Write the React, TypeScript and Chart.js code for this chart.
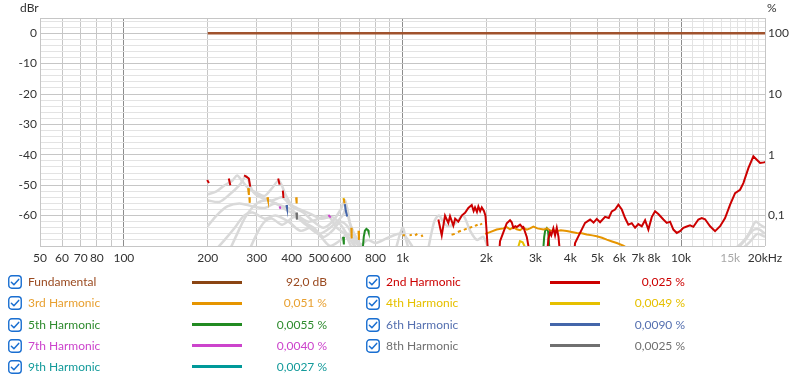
import React, { useEffect, useRef } from 'react';
import { Chart, registerables } from 'chart.js';
Chart.register(...registerables);

type Pt = [number, number | null];

const FONT = 'Lato, "Noto Sans", sans-serif';

// ---- axes ----
const xMin = 50;
const xMax = 20000;
const yMin = -70;
const yMax = 5;
const xLabelValues = [50, 60, 70, 80, 100, 200, 300, 400, 500, 600, 800, 1000, 2000, 3000, 4000, 5000, 6000, 7000, 8000, 10000, 15000, 20000];
const xLabelTexts = ['50', '60', '70', '80', '100', '200', '300', '400', '500', '600', '800', '1k', '2k', '3k', '4k', '5k', '6k', '7k', '8k', '10k', '15k', '20kHz'];
const yLabelValues = [0, -10, -20, -30, -40, -50, -60];
const pctTickValues = [0.1, 1, 10, 100];
const pctTickLabels = ['0,1', '1', '10', '100'];

// ---- series (Hz, dBr) ----
const fundamental: Pt[] = [[200, 0], [20000, 0]];

const h2: Pt[] = [
  [199, -48.3], [202, -49.3], [202, null],
  [238, -47.8], [241, -50.0], [241, null],
  [270, -46.8], [275, -47.2], [281, -47.8], [284, -50.5], [284, null],
  [358, -47.8], [362, -49.8], [362, null],
  [372, -51.8], [374, -54.2], [374, null],
  [1345, -61.3], [1383, -66.5], [1421, -60.0], [1460, -62.4], [1481, -60.2], [1522, -63.3], [1545, -61.0],
  [1586, -62.0], [1632, -60.0], [1677, -59.1], [1723, -57.5], [1772, -56.5], [1800, -58.5], [1821, -57.3],
  [1850, -58.8], [1872, -57.0], [1900, -58.5], [1925, -57.3], [1960, -58.5], [1985, -60], [2000, -64], [2030, -73], [2030, null],
  [2220, -73], [2239, -68.4], [2301, -65.5], [2367, -62.5], [2432, -61.5], [2466, -62.2], [2500, -64], [2540, -63.5],
  [2571, -63.8], [2642, -63.0], [2700, -64], [2716, -63.8], [2793, -67], [2870, -73], [2870, null],
  [3300, -73], [3340, -67.5], [3385, -65.5], [3420, -66.5], [3479, -64.2], [3528, -66.5], [3578, -64], [3630, -67], [3680, -73], [3680, null],
  [4120, -73], [4163, -69], [4338, -65.7], [4521, -62.4], [4713, -61.3], [4850, -62.3], [4980, -61.1], [5118, -62.2],
  [5334, -60.4], [5500, -60.8], [5638, -58.6], [5793, -58.0], [5954, -56.4], [6124, -58], [6293, -60.8], [6466, -63],
  [6650, -62.5], [6835, -64], [7023, -62.8], [7223, -63.5], [7424, -61.5], [7628, -64.6], [7845, -60.5], [8062, -58.6],
  [8284, -59.5], [8637, -61.3], [8882, -62.4], [9127, -62], [9380, -64.6], [9647, -65.7], [9913, -65.1], [10187, -64],
  [10478, -63.6], [10767, -63.2], [11064, -63.7], [11532, -61.3], [11861, -60.8], [12188, -61.2], [12704, -63.5],
  [13240, -65.1], [13800, -63.5], [14381, -60.8], [14990, -56.4], [15620, -52.6], [16276, -51.5], [16726, -49.3],
  [17433, -44.4], [18168, -40.5], [18686, -41.6], [19205, -42.7], [19850, -42.5], [20000, -42.3],
];

const h3: Pt[] = [
  [279, -51], [281, -53.2], [281, null],
  [282, -54], [283, -55.8], [283, null],
  [327, -54], [329, -55], [329, null],
  [415, -54], [417, -56], [417, null],
  [616, -54.5], [619, -56], [619, null],
  [655, -64], [657, -67.5], [657, null],
  [695, -65], [698, -68], [698, null],
  [1000, -66.5], [1020, -66.5], [1020, null],
  [1060, -66.5], [1080, -66.3], [1080, null],
  [1110, -66.5], [1130, -66.0], [1130, null],
  [1170, -66.3], [1180, -67], [1180, null],
  [1500, -66.3], [1540, -66], [1540, null],
  [1580, -65.4], [1620, -65], [1620, null],
  [1660, -64.7], [1700, -64.3], [1700, null],
  [1740, -64], [1780, -63.7], [1780, null],
  [1820, -63.4], [1860, -63], [1860, null],
  [1900, -63], [1930, -62.6], [1930, null],
  [1980, -66], [2050, -65.5], [2178, -64.6], [2300, -64.2], [2367, -63.8], [2432, -64.5], [2500, -63.8], [2571, -64.5],
  [2642, -64.8], [2716, -64], [2793, -64.6], [2870, -64.2], [2949, -63.6], [3050, -64.2], [3203, -64.6], [3300, -64.2],
  [3400, -64.9], [3578, -65.1], [3700, -64.8], [3887, -65.1], [4050, -65.4], [4221, -65.7], [4400, -65.8], [4585, -66.2],
  [4800, -66.5], [4980, -66.8], [5200, -67.3], [5409, -67.9], [5650, -68.5], [5875, -69], [6204, -69.9], [6500, -71],
];

const h4: Pt[] = [
  [614, -54.2], [617, -55.3], [617, null],
  [2590, -71], [2640, -68.4], [2700, -68.8], [2790, -71.5],
];

const h5: Pt[] = [
  [612, -67], [616, -69.5], [616, null],
  [720, -71], [726, -67], [733, -65], [742, -64.4], [752, -64.8], [756, -65.5], [756, null],
  [3195, -72], [3225, -67], [3250, -65], [3294, -64.2], [3330, -65.2], [3350, -68], [3372, -72],
];

const h6: Pt[] = [
  [383, -56.5], [385, -57.5], [385, null],
  [621, -56.2], [626, -58.5], [633, -60.3],
];

const h7: Pt[] = [
  [362, -57.0], [365, -57.8], [365, null],
  [542, -59.8], [548, -60.3], [553, -60.6],
];

const h8: Pt[] = [
  [416, -59], [418, -61.3],
];

const h9: Pt[] = [];

// greyed (unreliable) harmonic traces
const greyA: Pt[] = [[200, -53], [215, -52], [230, -50], [245, -48.5], [255, -46.8], [265, -48.5], [280, -51], [300, -52.5], [320, -53.5], [340, -51], [360, -48.5], [380, -53], [400, -56.5], [430, -58], [470, -59.5], [510, -61], [560, -60.5], [600, -63], [640, -67], [680, -71]];
const greyB: Pt[] = [[200, -55], [220, -55.5], [240, -53], [260, -50], [275, -47], [290, -52], [310, -54], [340, -55], [370, -54], [400, -57], [440, -59], [480, -62], [520, -64], [560, -62], [600, -58], [622, -55], [645, -62], [680, -68], [700, -71]];
const greyC: Pt[] = [[200, -63.5], [215, -60], [235, -57], [260, -56], [290, -57], [320, -57.5], [350, -56], [380, -58], [420, -60], [460, -62], [500, -61], [540, -60], [580, -64], [620, -66], [660, -71]];
const greyD: Pt[] = [[238, -72], [255, -66], [275, -60], [300, -56], [330, -55], [360, -56.5], [400, -58], [440, -62], [480, -64], [520, -67], [560, -65], [600, -62], [640, -64], [680, -71]];
const greyE: Pt[] = [[210, -72], [230, -68], [250, -64], [270, -60], [290, -59], [320, -61], [350, -60], [390, -62], [430, -65], [470, -64], [510, -67], [550, -70], [600, -68], [640, -66], [700, -70], [750, -68], [800, -69], [900, -67], [1000, -66], [1100, -71]];
const greyF: Pt[] = [[280, -72], [300, -66], [320, -62], [340, -61], [370, -63], [410, -60.5], [450, -63], [500, -66], [550, -64], [610, -60], [630, -57], [650, -63], [700, -69], [750, -72]];
const greyG: Pt[] = [[940, -72], [1000, -64], [1030, -68], [1060, -72], [1060, null], [1230, -72], [1300, -62], [1350, -60], [1400, -62], [1450, -63.5], [1550, -62.5], [1650, -60], [1750, -65], [1850, -68], [1950, -67], [2050, -72]];
const greyH: Pt[] = [[15000, -72], [16500, -69], [17500, -66], [18500, -62], [19200, -63], [20000, -64]];
const greyI: Pt[] = [[15500, -72], [17000, -68], [18000, -65], [19000, -64.5], [20000, -66]];
const greyJ: Pt[] = [[16000, -72], [17500, -69], [18800, -66], [20000, -67]];
const greyCurves = [greyA, greyB, greyC, greyD, greyE, greyF, greyG, greyH, greyI, greyJ];

// ---- legend ----
const legendNames = ['Fundamental', '2nd Harmonic', '3rd Harmonic', '4th Harmonic', '5th Harmonic', '6th Harmonic', '7th Harmonic', '8th Harmonic', '9th Harmonic'];
const legendValues = ['92,0 dB', '0,025 %', '0,051 %', '0,0049 %', '0,0055 %', '0,0090 %', '0,0040 %', '0,0025 %', '0,0027 %'];
const lineColors = ['#a0522d', '#cc0000', '#e69500', '#e6c000', '#228b22', '#4466aa', '#cc44cc', '#707070', '#009999'];
const legendLineColors = ['#8b4513', '#cc0000', '#e69500', '#e6c000', '#228b22', '#4466aa', '#cc44cc', '#707070', '#009999'];
const textColors = ['#9a4a20', '#cc0000', '#e8a030', '#e6c000', '#2e8b2e', '#5570b0', '#cc44cc', '#707070', '#139a9a'];
const harmonicSeries = [fundamental, h2, h3, h4, h5, h6, h7, h8, h9];

const toXY = (pts: Pt[]) => pts.map(([x, y]) => ({ x, y }));

function buildXGrid(): number[] {
  const out: number[] = [];
  for (let dec = 10; dec <= 1000; dec *= 10) {
    for (let m = 1; m <= 9; m++) {
      const v = m * dec;
      if (v >= xMin && v <= xMax) out.push(v);
    }
  }
  for (let v = 10000; v <= xMax; v += 1000) out.push(v);
  return out;
}

function buildYGrid(): number[] {
  const out: number[] = [];
  for (let v = yMin; v < yMax; v += 2) out.push(v);
  out.push(yMax);
  return out;
}

function ChartView() {
  const ref = useRef<HTMLCanvasElement | null>(null);
  useEffect(() => {
    if (!ref.current) return;
    const datasets: any[] = [];
    harmonicSeries.forEach((s, i) => {
      datasets.push({
        label: legendNames[i],
        data: toXY(s),
        borderColor: lineColors[i],
        borderWidth: i === 0 ? 2.5 : 2,
        pointRadius: 0,
        tension: 0,
        spanGaps: false,
        order: i === 0 ? 2 : 1,
        yAxisID: 'y',
      });
    });
    greyCurves.forEach((g, i) => {
      datasets.push({
        label: 'grey' + i,
        data: toXY(g),
        borderColor: '#d9d9d9',
        borderWidth: 2.5,
        pointRadius: 0,
        tension: 0.3,
        spanGaps: false,
        order: 10,
        yAxisID: 'y',
      });
    });
    const xGrid = buildXGrid();
    const yGrid = buildYGrid();
    const chart = new Chart(ref.current, {
      type: 'line',
      data: { datasets },
      options: {
        animation: false,
        responsive: false,
        devicePixelRatio: 1,
        layout: { padding: { top: 18, left: 0, right: 0, bottom: 0 } },
        plugins: { legend: { display: false }, tooltip: { enabled: false } },
        scales: {
          x: {
            type: 'logarithmic',
            min: xMin,
            max: xMax,
            afterBuildTicks: (s: any) => { s.ticks = xGrid.map((v) => ({ value: v })); },
            afterFit: (s: any) => { s.height = 24; },
            grid: {
              drawTicks: false,
              color: (c: any) => {
                const v = c.tick?.value;
                if (v === 100 || v === 1000 || v === 10000) return '#8c8c8c';
                if (v > 10000 && v < 20000) return '#e3e3e3';
                return '#c6c6c6';
              },
            },
            border: { display: false },
            ticks: {
              autoSkip: false,
              maxRotation: 0,
              padding: 5,
              font: { family: FONT, size: 12 },
              color: (c: any) => (c.tick?.value === 15000 ? '#a8a8a8' : '#333'),
              callback: (v: any) => {
                const i = xLabelValues.indexOf(Number(v));
                return i >= 0 ? xLabelTexts[i] : '';
              },
            },
          },
          y: {
            type: 'linear',
            position: 'left',
            min: yMin,
            max: yMax,
            afterBuildTicks: (s: any) => { s.ticks = yGrid.map((v) => ({ value: v })); },
            afterFit: (s: any) => { s.width = 40; },
            grid: {
              drawTicks: false,
              color: (c: any) => {
                const v = c.tick?.value;
                if (v === yMax || v % 10 === 0) return '#c6c6c6';
                return '#e3e3e3';
              },
            },
            border: { display: true, color: '#c6c6c6' },
            ticks: {
              autoSkip: false,
              padding: 3,
              font: { family: FONT, size: 12 },
              color: '#333',
              callback: (v: any) => (yLabelValues.includes(Number(v)) ? String(v) : ''),
            },
          },
          pct: {
            type: 'logarithmic',
            position: 'right',
            min: 100 * Math.pow(10, yMin / 20),
            max: 100 * Math.pow(10, yMax / 20),
            afterBuildTicks: (s: any) => { s.ticks = pctTickValues.map((v) => ({ value: v })); },
            afterFit: (s: any) => { s.width = 35; },
            grid: { display: false, drawTicks: false },
            border: { display: false },
            ticks: {
              autoSkip: false,
              padding: 3,
              font: { family: FONT, size: 12 },
              color: '#333',
              callback: (v: any) => {
                const i = pctTickValues.indexOf(Number(v));
                return i >= 0 ? pctTickLabels[i] : '';
              },
            },
          },
        },
      },
    });
    return () => chart.destroy();
  }, []);
  return <canvas ref={ref} width={800} height={270} style={{ position: 'absolute', left: 0, top: 0, width: 800, height: 270 }} />;
}

function CheckBox({ left, top }: { left: number; top: number }) {
  return (
    <svg width={14} height={14} viewBox="0 0 14 14" style={{ position: 'absolute', left, top }}>
      <rect x={0.75} y={0.75} width={12.5} height={12.5} rx={3} fill="#fff" stroke="#1a6fd1" strokeWidth={1.4} />
      <path d="M3.4 7.2 L5.9 9.7 L10.7 4.4" fill="none" stroke="#1a6fd1" strokeWidth={1.5} strokeLinecap="round" strokeLinejoin="round" />
    </svg>
  );
}

export default function App() {
  const items = legendNames.map((name, i) => {
    const n = i + 1;
    const col = n === 1 || n % 2 === 1 ? 0 : 1;
    const row = n === 1 ? 0 : col === 0 ? (n - 1) / 2 : n / 2 - 1;
    const cy = 282.3 + row * 21.1;
    const base = col === 0 ? 0 : 358;
    return (
      <React.Fragment key={name}>
        <CheckBox left={8 + base} top={cy - 7} />
        <div style={{ position: 'absolute', left: 28 + base, top: cy - 8, height: 16, lineHeight: '16px', fontSize: 12, fontFamily: FONT, color: textColors[i], whiteSpace: 'nowrap' }}>{name}</div>
        <div style={{ position: 'absolute', left: 192 + base, top: cy - 1.5, width: 50, height: 3, background: legendLineColors[i] }} />
        <div style={{ position: 'absolute', left: 227 + base, width: 100, top: cy - 8, height: 16, lineHeight: '16px', fontSize: 12, fontFamily: FONT, color: textColors[i], textAlign: 'right', whiteSpace: 'nowrap' }}>{legendValues[i]}</div>
      </React.Fragment>
    );
  });
  return (
    <div style={{ position: 'fixed', left: 0, top: 0, width: 800, height: 382, background: '#fff', overflow: 'hidden' }}>
      <ChartView />
      <div style={{ position: 'absolute', left: 20, top: 1, fontSize: 12, fontFamily: FONT, color: '#333', lineHeight: '14px' }}>dBr</div>
      <div style={{ position: 'absolute', left: 767, top: 1, fontSize: 12, fontFamily: FONT, color: '#333', lineHeight: '14px' }}>%</div>
      {items}
    </div>
  );
}
